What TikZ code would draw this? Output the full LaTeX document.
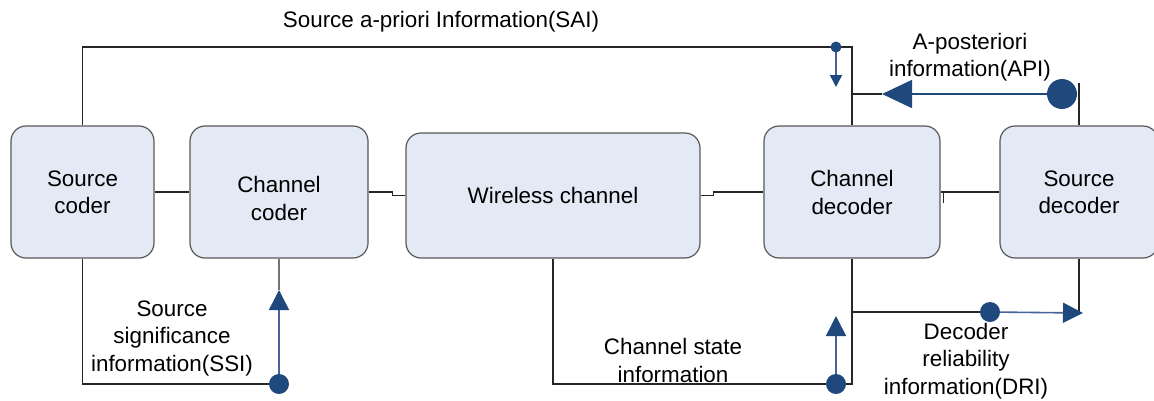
\documentclass[tikz,border=0pt]{standalone}
\usepackage{fontspec}
\setmainfont{Liberation Sans}
\usetikzlibrary{arrows.meta,calc}
\definecolor{boxfill}{RGB}{228,234,245}
\definecolor{boxedge}{RGB}{88,88,88}
\definecolor{dotblue}{RGB}{31,73,125}
\definecolor{linkblue}{RGB}{70,100,155}
\begin{document}
\begin{tikzpicture}[x=1pt,y=-1pt,
  block/.style={draw=boxedge, line width=1.2pt, fill=boxfill, rounded corners=15pt, inner sep=0pt},
  txt/.style={font=\fontsize{22.4}{27.5}\selectfont, align=center, inner sep=0pt},
  wire/.style={line width=1.1pt, draw=black!85},
  greywire/.style={line width=1.1pt, draw=black!55},
  dot/.style={circle, fill=dotblue, inner sep=0pt, minimum size=20pt},
  feed/.style={line width=1.6pt, draw=linkblue},
  tipS/.style={-{Triangle[length=12pt,width=12pt,color=dotblue,fill=dotblue]}},
  tipM/.style={-{Triangle[length=20pt,width=20pt,color=dotblue,fill=dotblue]}},
  tipL/.style={-{Triangle[length=30pt,width=28pt,color=dotblue,fill=dotblue]}}
]
\useasboundingbox (0,0) rectangle (1154,400);

% processing blocks
\node[block, minimum width=143pt, minimum height=132pt] (sc) at (82.5,192) {};
\node[block, minimum width=178pt, minimum height=132pt] (cc) at (279,192) {};
\node[block, minimum width=294pt, minimum height=125pt] (wc) at (553,195.5) {};
\node[block, minimum width=176pt, minimum height=132pt] (cd) at (852,192) {};
\node[block, minimum width=158pt, minimum height=132pt] (sd) at (1079,192) {};

\node[txt] (scT) at (82.5,192.5) {Source\\coder};
\node[txt] (ccT) at (279,198.5) {Channel\\coder};
\node[txt] (wcT) at (553,195) {Wireless channel};
\node[txt] (cdT) at (852,192.5) {Channel\\decoder};
\node[txt] (sdT) at (1079,192.5) {Source\\decoder};

% main signal chain
\draw[wire] (sc.east) -- (cc.west);
\draw[wire] (cc.east) -- ++(24,0) |- (wc.west);
\draw[wire] (wc.east) -- ++(13,0) |- (cd.west);
\draw[wire] (cd.east) -- (sd.west);
\draw[wire] ($(cd.east)+(3,0)$) -- ++(0,11);

% side-information taps
\coordinate (saiTap) at (836,47);
\coordinate (saiTip) at (836,87);
\coordinate (apiTop) at (1079,83);
\coordinate (apiDot) at (1062,94);
\coordinate (apiTip) at (882,94);
\coordinate (apiJoin) at (852,94);
\coordinate (ssiDot) at (279,384);
\coordinate (ssiTip) at (279,290);
\coordinate (csiDot) at (836,384);
\coordinate (csiTip) at (836,316);
\coordinate (driJoin) at (852,312);
\coordinate (driDot) at (990,312);
\coordinate (driTip) at (1083,313);

% SAI
\draw[wire] (sc.north) |- (saiTap) -| (cd.north);
\draw[feed,tipS] (saiTap) -- (saiTip);
% API
\draw[wire] (apiTop) -- (sd.north);
\draw[wire] (apiTip) -- (apiJoin);
\draw[feed,line width=1.5pt,draw=dotblue,tipL] (apiDot) -- (apiTip);
% SSI
\draw[wire] (sc.south) |- (ssiDot);
\draw[greywire] (ssiTip) -- (cc.south);
\draw[feed,tipM] (ssiDot) -- (ssiTip);
% CSI
\draw[wire] (wc.south) |- (csiDot) -| (cd.south);
\draw[feed,tipM] (csiDot) -- (csiTip);
% DRI
\draw[wire] (driJoin) -- (driDot);
\draw[wire] (sd.south) -- (sd.south |- driDot);
\draw[feed,tipM] (driDot) -- (driTip);

% tap dots
\node[dot, minimum size=11pt] (saiD) at (saiTap) {};
\node[dot, minimum size=30pt] (apiD) at (apiDot) {};
\node[dot] (ssiD) at (ssiDot) {};
\node[dot] (csiD) at (csiDot) {};
\node[dot] (driD) at (driDot) {};

% labels
\node[txt] (saiL) at (441,22) {Source a-priori Information(SAI)};
\node[txt] (apiL) at (970,57) {A-posteriori\\information(API)};
\node[txt] (ssiL) at (172,338) {Source\\significance\\information(SSI)};
\node[txt] (csiL) at (673,360.5) {Channel state\\information};
\node[txt] (driL) at (966,361) {Decoder\\reliability\\information(DRI)};
\end{tikzpicture}
\end{document}
